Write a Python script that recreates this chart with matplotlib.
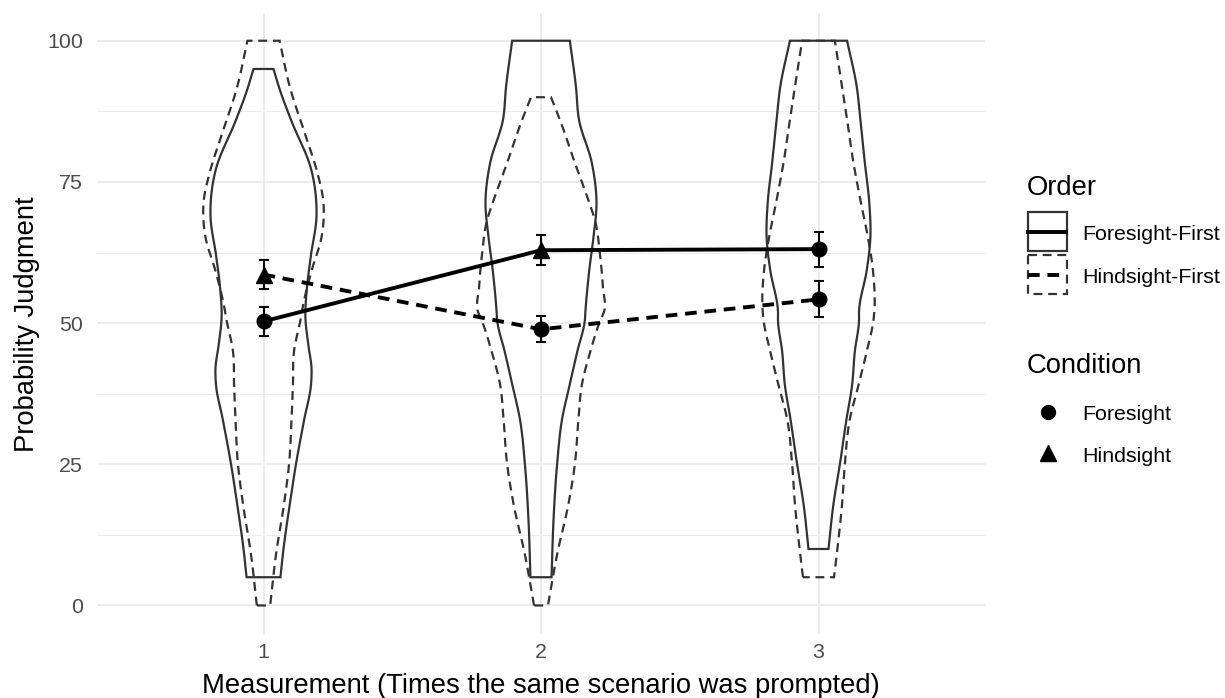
import numpy as np
import matplotlib
matplotlib.use("Agg")
import matplotlib.pyplot as plt
from matplotlib.patches import Rectangle, Polygon
from matplotlib.lines import Line2D

plt.rcParams['font.family'] = ['Liberation Sans', 'DejaVu Sans']

# ---------------- data ----------------
measurements = [1, 2, 3]
x_tick_labels = ["1", "2", "3"]
y_ticks = [0, 25, 50, 75, 100]
orders = ["Foresight-First", "Hindsight-First"]
conditions = ["Foresight", "Hindsight"]

# violin profiles: judgment levels and half-widths (x units)
ff1_y = [5, 10, 18, 25, 33, 39, 42, 46, 51, 56, 62, 69, 77, 86, 91, 95]
ff1_w = [0.061, 0.072, 0.095, 0.117, 0.147, 0.171, 0.173, 0.162, 0.151, 0.156, 0.171, 0.191, 0.173, 0.099, 0.061, 0.036]
hf1_y = [0, 9, 18, 25, 33, 39, 45, 50.5, 53.5, 59.4, 65.2, 71.3, 77, 83, 91.8, 100]
hf1_w = [0.024, 0.045, 0.074, 0.092, 0.101, 0.106, 0.110, 0.133, 0.144, 0.174, 0.209, 0.216, 0.192, 0.153, 0.095, 0.058]

ff2_y = [5, 15, 25, 33, 39, 45, 50.5, 52, 59.4, 65.2, 71.3, 78.4, 86, 91.8, 100]
ff2_w = [0.038, 0.045, 0.058, 0.076, 0.103, 0.131, 0.158, 0.160, 0.174, 0.189, 0.200, 0.183, 0.137, 0.126, 0.104]
hf2_y = [0, 9, 18, 25, 33, 39, 45, 50.5, 52, 56.4, 62.4, 68.3, 71.3, 78.4, 86, 90]
hf2_w = [0.025, 0.058, 0.099, 0.122, 0.135, 0.147, 0.178, 0.214, 0.227, 0.223, 0.212, 0.194, 0.174, 0.122, 0.068, 0.036]

ff3_y = [10, 18, 25, 33, 39, 45, 50.5, 52, 59.4, 65.2, 71.3, 78.4, 86, 91.8, 100]
ff3_w = [0.036, 0.054, 0.077, 0.101, 0.121, 0.131, 0.146, 0.146, 0.174, 0.187, 0.183, 0.167, 0.151, 0.138, 0.103]
hf3_y = [5, 10, 18, 25, 33, 39, 45, 50.5, 52, 59.4, 65.2, 71.3, 78.4, 86, 91.8, 100]
hf3_w = [0.056, 0.068, 0.085, 0.095, 0.113, 0.144, 0.174, 0.198, 0.201, 0.196, 0.178, 0.153, 0.126, 0.103, 0.085, 0.059]

# means and standard errors
ff_means = [50.3, 62.9, 63.1]
ff_err = [2.5, 2.65, 3.1]
ff_cond = ["Foresight", "Hindsight", "Foresight"]
hf_means = [58.6, 48.9, 54.2]
hf_err = [2.6, 2.3, 3.2]
hf_cond = ["Hindsight", "Foresight", "Foresight"]

# ---------------- styling ----------------
W, H = 1225, 698
fig = plt.figure(figsize=(W / 100, H / 100), dpi=100)
left, right, top, bottom = 97, 985, 12.5, 633.7
ax = fig.add_axes([left / W, (H - bottom) / H, (right - left) / W, (bottom - top) / H])
ax.set_xlim(0.4, 3.6)
ax.set_ylim(-5, 105)
for s in ax.spines.values():
    s.set_visible(False)

grid_col = '#EBEBEB'
for yv in y_ticks:
    ax.axhline(yv, color=grid_col, lw=1.3, zorder=0)
for yv in [12.5, 37.5, 62.5, 87.5]:
    ax.axhline(yv, color=grid_col, lw=0.7, zorder=0)
for xv in measurements:
    ax.axvline(xv, color=grid_col, lw=1.3, zorder=0)

ax.set_xticks(measurements)
ax.set_xticklabels(x_tick_labels)
ax.set_yticks(y_ticks)
ax.set_yticklabels([str(v) for v in y_ticks])
ax.tick_params(axis='both', length=0, labelsize=15.4, labelcolor='#4D4D4D')
ax.tick_params(axis='x', pad=7)
ax.tick_params(axis='y', pad=10)


def smooth_profile(y, w, n=14):
    y = np.asarray(y, float)
    w = np.asarray(w, float)
    m = np.gradient(w, y)
    ys, ws = [], []
    t = np.linspace(0, 1, n, endpoint=False)
    h00 = 2 * t**3 - 3 * t**2 + 1
    h10 = t**3 - 2 * t**2 + t
    h01 = -2 * t**3 + 3 * t**2
    h11 = t**3 - t**2
    for i in range(len(y) - 1):
        h = y[i + 1] - y[i]
        ws.append(h00 * w[i] + h10 * h * m[i] + h01 * w[i + 1] + h11 * h * m[i + 1])
        ys.append(y[i] + t * h)
    ys.append([y[-1]])
    ws.append([w[-1]])
    return np.concatenate(ys), np.clip(np.concatenate(ws), 0, None)


violin_col = '#333333'
violin_lw = 1.6
solid_ls = '-'
dash_violin = (0, (4, 2.6))
profiles = [
    (1, ff1_y, ff1_w, solid_ls), (1, hf1_y, hf1_w, dash_violin),
    (2, ff2_y, ff2_w, solid_ls), (2, hf2_y, hf2_w, dash_violin),
    (3, ff3_y, ff3_w, solid_ls), (3, hf3_y, hf3_w, dash_violin),
]
for xc, yy, ww, ls in profiles:
    ys, ws = smooth_profile(yy, ww)
    xs = np.concatenate([xc - ws, (xc + ws)[::-1]])
    yv = np.concatenate([ys, ys[::-1]])
    poly = Polygon(np.column_stack([xs, yv]), closed=True, fill=False,
                   edgecolor=violin_col, lw=violin_lw, linestyle=ls, zorder=2)
    ax.add_patch(poly)

mean_lw = 2.8
dash_mean = (0, (3, 2))
ax.plot(measurements, ff_means, color='black', lw=mean_lw, linestyle='-', zorder=3)
ax.plot(measurements, hf_means, color='black', lw=mean_lw, linestyle=dash_mean, zorder=3)

marker_of = {"Foresight": 'o', "Hindsight": '^'}
size_of = {"Foresight": 10.5, "Hindsight": 11.5}
for means, errs, conds in [(ff_means, ff_err, ff_cond), (hf_means, hf_err, hf_cond)]:
    ax.errorbar(measurements, means, yerr=errs, fmt='none', ecolor='black',
                elinewidth=1.5, capsize=3.3, capthick=1.5, zorder=4)
    for xm, mv, c in zip(measurements, means, conds):
        ax.plot([xm], [mv], marker=marker_of[c], markersize=size_of[c],
                color='black', linestyle='none', zorder=5)

# ---------------- overlay for titles & legend (pixel coords) ----------------
lax = fig.add_axes([0, 0, 1, 1])
lax.set_xlim(0, W)
lax.set_ylim(H, 0)
lax.axis('off')

lax.text(541, 693, "Measurement (Times the same scenario was prompted)",
         ha='center', va='baseline', fontsize=19.7, color='black')
lax.text(34, 324, "Probability Judgment", ha='center', va='baseline',
         rotation=90, fontsize=19.7, color='black', rotation_mode='anchor')

# Order legend
lax.text(1027, 195, "Order", ha='left', va='baseline', fontsize=19.7)
key_boxes = [(212, '-', '-', 240), (255, dash_violin, dash_mean, 283)]
for (ytop, box_ls, line_ls, base), lab in zip(key_boxes, orders):
    lax.add_patch(Rectangle((1027.5, ytop), 39.5, 39, fill=False,
                            edgecolor=violin_col, lw=violin_lw, linestyle=box_ls))
    lax.add_line(Line2D([1028, 1066], [ytop + 19.5, ytop + 19.5], color='black',
                        lw=mean_lw, linestyle=line_ls))
    lax.text(1082, base, lab, ha='left', va='baseline', fontsize=15.4)

# Condition legend
lax.text(1027, 373, "Condition", ha='left', va='baseline', fontsize=19.7)
for yc, base, c in [(412, 420, "Foresight"), (453, 462, "Hindsight")]:
    lax.plot([1048], [yc], marker=marker_of[c], markersize=size_of[c] - 0.5,
             color='black', linestyle='none')
    lax.text(1082, base, c, ha='left', va='baseline', fontsize=15.4)

fig.savefig("out.png", dpi=100, facecolor='white')
